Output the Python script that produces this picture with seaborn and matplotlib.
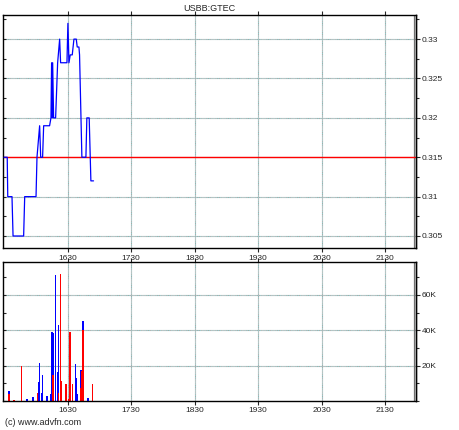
import numpy as np
import pandas as pd
import seaborn as sns
import matplotlib.pyplot as plt
from matplotlib.ticker import MultipleLocator

sns.set_style("white")
plt.rcParams['font.family'] = ['Liberation Sans', 'DejaVu Sans']
plt.rcParams['font.size'] = 6

TITLE = "USBB:GTEC"
PREV_CLOSE = 0.315

# trade times in minutes since midnight, and price at that time
price_time = [930, 933, 933.5, 937.5, 938.5, 948.5, 949.5, 960.2, 961.1, 963.6,
              964.6, 966.4, 967.4, 973, 974.3, 974.9, 975.5, 975.9, 976.8, 978.7,
              980.6, 982.5, 983.4, 989.4, 990.3, 991.3, 992.5, 994.4, 996, 998.2,
              999.1, 1000.7, 1001.3, 1003.5, 1007.3, 1008.2, 1010.4, 1012, 1014.5]
price = [0.315, 0.315, 0.31, 0.31, 0.305, 0.305, 0.31, 0.31, 0.315, 0.319,
         0.315, 0.315, 0.319, 0.319, 0.32, 0.327, 0.32, 0.327, 0.32, 0.32,
         0.327, 0.33, 0.327, 0.327, 0.332, 0.327, 0.328, 0.328, 0.33, 0.33,
         0.329, 0.329, 0.328, 0.315, 0.315, 0.32, 0.32, 0.312, 0.312]

# volume per minute, split by buy (blue) / sell (red)
buy_time = [934, 951, 957, 962, 963, 965, 966, 970, 974, 975,
            976, 978, 980, 981, 997, 998, 999, 1002, 1004, 1009]
buy_vol = [5700, 1300, 2000, 10900, 21700, 4800, 14900, 2900, 4200, 38900,
           38300, 71000, 16200, 42900, 20800, 12800, 3800, 17700, 45000, 1900]
sell_time = [934, 939, 946, 961, 976, 981, 983, 984, 988, 991,
             992, 994, 1002, 1003, 1004, 1013]
sell_vol = [3800, 400, 20000, 4800, 14700, 4400, 72000, 11400, 9500, 1000,
            38900, 9900, 7600, 17100, 40000, 9900]

hour_ticks = [990, 1050, 1110, 1170, 1230, 1290]
hour_labels = ["1630", "1730", "1830", "1930", "2030", "2130"]
price_ticks = [0.305, 0.31, 0.315, 0.32, 0.325, 0.33]
price_labels = ["0.305", "0.31", "0.315", "0.32", "0.325", "0.33"]
vol_ticks = [20000, 40000, 60000]
vol_labels = ["20K", "40K", "60K"]

GRID_KW = dict(color="#a8a8a8", gapcolor="#8fcaca", lw=0.8,
               linestyle=(0, (1, 1)), zorder=0)
X_MIN, X_MAX, DAY_END = 929, 1319, 1317

fig = plt.figure(figsize=(4.6, 4.3), dpi=100)
ax1 = fig.add_axes([0.0065, 0.4226, 0.8978, 0.5432])
ax2 = fig.add_axes([0.0065, 0.0674, 0.8978, 0.3226])

# --- price panel ---
for t in hour_ticks:
    ax1.axvline(t, **GRID_KW)
for p in price_ticks:
    ax1.axhline(p, **GRID_KW)
ax1.axvline(DAY_END, color="#707070", lw=0.9, zorder=1)
ax1.axhline(PREV_CLOSE, color="red", lw=1, zorder=2)
df_p = pd.DataFrame({"t": price_time, "p": price})
sns.lineplot(data=df_p, x="t", y="p", sort=False, estimator=None,
             color="blue", lw=0.9, ax=ax1, zorder=3)
ax1.set_xlim(X_MIN, X_MAX)
ax1.set_ylim(0.30344, 0.3331)
ax1.set_xlabel(None)
ax1.set_ylabel(None)
ax1.set_title(TITLE, fontsize=6.5, pad=3)

# --- volume panel ---
for t in hour_ticks:
    ax2.axvline(t, **GRID_KW)
for v in vol_ticks:
    ax2.axhline(v, **GRID_KW)
ax2.axvline(DAY_END, color="#707070", lw=0.9, zorder=1)
sns.histplot(x=buy_time, weights=buy_vol, discrete=True, shrink=0.5,
             color="blue", edgecolor="blue", alpha=1, linewidth=0.7,
             antialiased=False, ax=ax2, zorder=1.5)
sns.histplot(x=sell_time, weights=sell_vol, discrete=True, shrink=0.5,
             color="red", edgecolor="red", alpha=1, linewidth=0.7,
             antialiased=False, ax=ax2, zorder=1.6)
ax2.set_xlim(X_MIN, X_MAX)
ax2.set_ylim(0, 78400)
ax2.set_xlabel(None)
ax2.set_ylabel(None)

for ax, ticks, labels, minor in [(ax1, price_ticks, price_labels, 0.0025),
                                 (ax2, vol_ticks, vol_labels, 10000)]:
    for s in ax.spines.values():
        s.set_color("black")
        s.set_linewidth(1)
    ax.set_xticks(hour_ticks)
    ax.set_xticklabels(hour_labels)
    ax.yaxis.set_major_locator(MultipleLocator(minor))
    ax.tick_params(axis="y", which="both", left=True, right=False,
                   labelleft=False, direction="in", length=2, width=0.8)
    ax.tick_params(axis="x", direction="out", length=3, width=0.8,
                   top=True, bottom=True, pad=1.5)
    sec = ax.secondary_yaxis("right")
    sec.set_yticks(ticks)
    sec.set_yticklabels(labels)
    sec.yaxis.set_minor_locator(MultipleLocator(minor))
    sec.tick_params(which="major", direction="out", length=3, width=0.8, pad=1)
    sec.tick_params(which="minor", direction="out", length=2, width=0.8)
    sec.spines["right"].set_linewidth(1)

ax1.tick_params(axis="x", labeltop=False, labelbottom=True)
ax2.tick_params(axis="x", labeltop=False, labelbottom=True)

fig.text(0.011, 0.018, "(c) www.advfn.com", fontsize=6.5, ha="left", va="center")

fig.savefig("out.png", dpi=100)
